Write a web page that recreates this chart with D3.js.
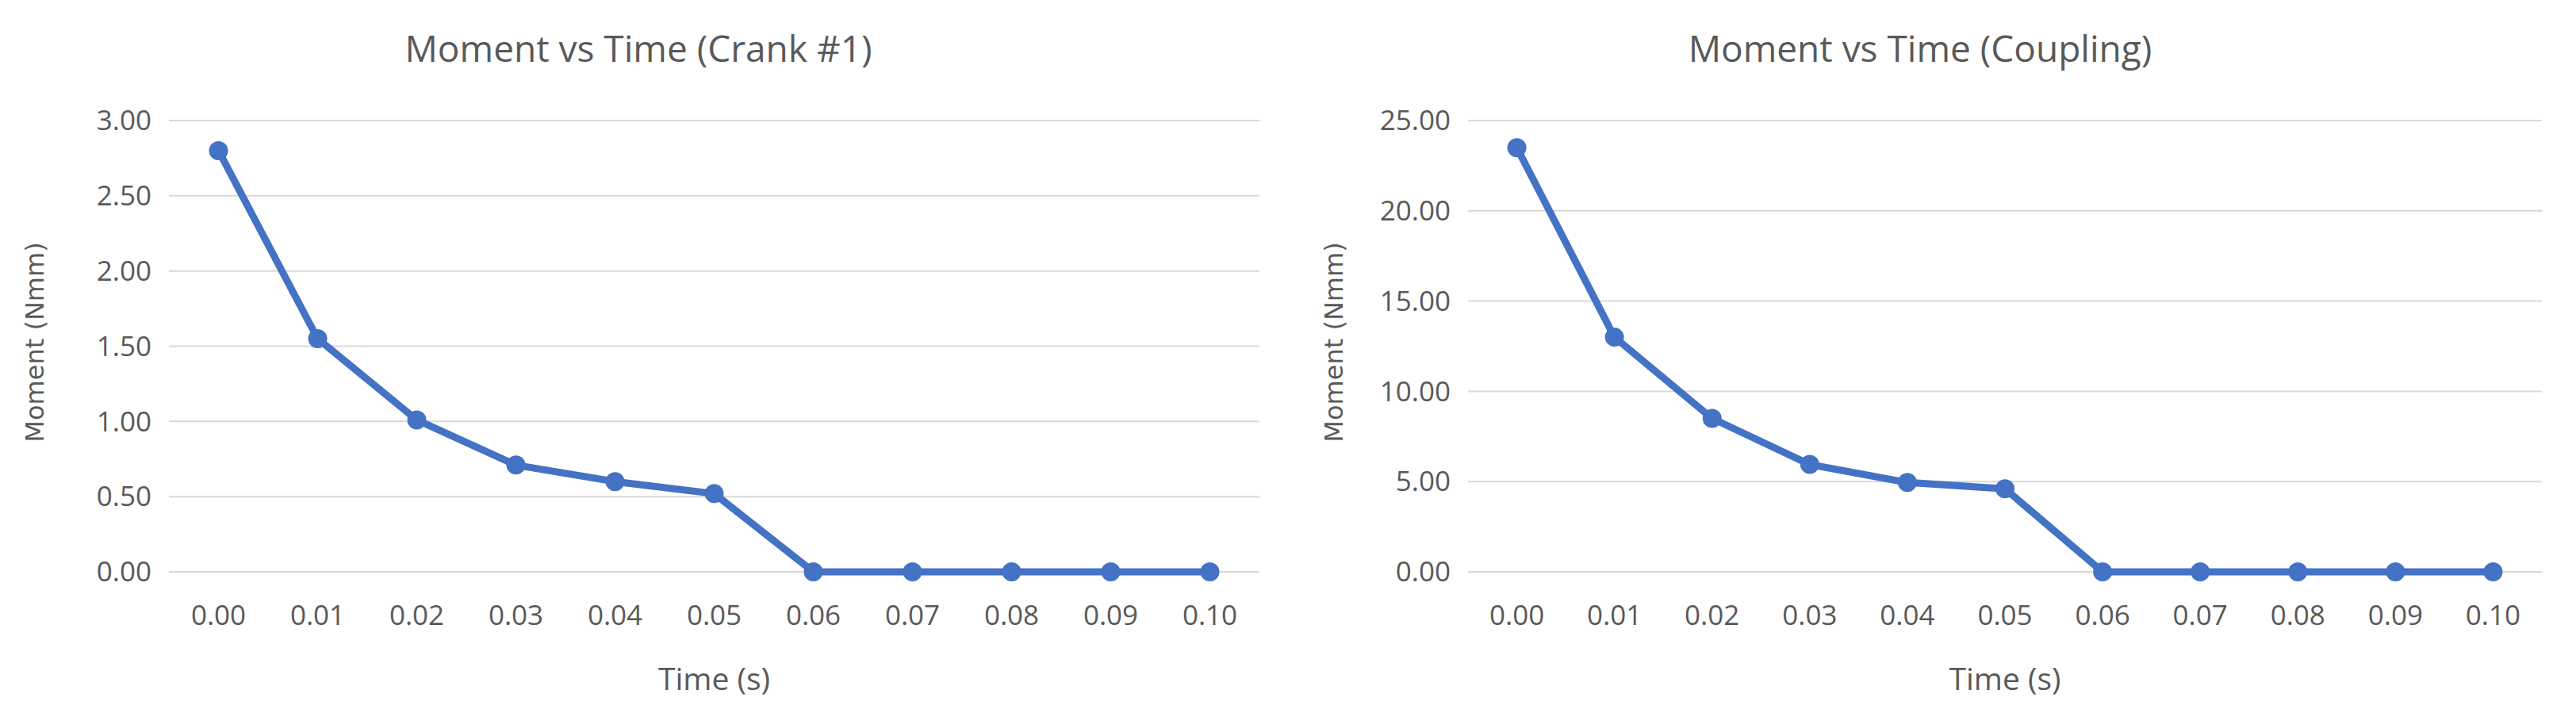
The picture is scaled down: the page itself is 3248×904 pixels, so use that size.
<!DOCTYPE html>
<head>
<meta charset="utf-8">
<style>
body { margin:0; background:#fff; }
text { fill:#595959; }
</style>
</head>
<body>
<div id="chart"></div>
<script src="https://d3js.org/d3.v7.min.js"></script>
<script>

var times = ["0.00","0.01","0.02","0.03","0.04","0.05","0.06","0.07","0.08","0.09","0.10"];
var crankMoment = [2.80, 1.55, 1.01, 0.71, 0.60, 0.52, 0, 0, 0, 0, 0];
var couplingMoment = [23.5, 13.0, 8.5, 5.95, 4.95, 4.6, 0, 0, 0, 0, 0];
var crankTicks = [0, 0.5, 1, 1.5, 2, 2.5, 3];
var couplingTicks = [0, 5, 10, 15, 20, 25];

var W = 3248, H = 904;
var font = "'Open Sans', sans-serif";

var svg = d3.select('#chart').append('svg')
    .attr('width', W).attr('height', H);

function drawChart(title, values, ticks, x0, x1, titleX) {
  var top = 152, bottom = 721;
  var xScale = d3.scaleBand().domain(times).range([x0, x1]);
  var yScale = d3.scaleLinear().domain([0, d3.max(ticks)]).range([bottom, top]);
  var g = svg.append('g');

  g.selectAll('.grid')
    .data(ticks)
    .enter().append('line')
      .attr('x1', x0).attr('x2', x1)
      .attr('y1', function(d) { return yScale(d); })
      .attr('y2', function(d) { return yScale(d); })
      .attr('stroke', '#d9d9d9').attr('stroke-width', 2);

  g.selectAll('.ytick')
    .data(ticks)
    .enter().append('text')
      .attr('x', x0 - 22)
      .attr('y', function(d) { return yScale(d); })
      .attr('dy', '0.35em')
      .attr('text-anchor', 'end')
      .attr('font-family', font).attr('font-size', '35px')
      .text(function(d) { return d.toFixed(2); });

  g.selectAll('.xtick')
    .data(times)
    .enter().append('text')
      .attr('x', function(d) { return xScale(d) + xScale.bandwidth() / 2; })
      .attr('y', bottom + 67)
      .attr('text-anchor', 'middle')
      .attr('font-family', font).attr('font-size', '35px')
      .text(function(d) { return d; });

  var line = d3.line()
    .x(function(d, i) { return xScale(times[i]) + xScale.bandwidth() / 2; })
    .y(function(d) { return yScale(d); });

  g.append('path')
    .datum(values)
    .attr('d', line)
    .attr('fill', 'none')
    .attr('stroke', '#4472C4')
    .attr('stroke-width', 9)
    .attr('stroke-linejoin', 'round');

  g.selectAll('.dot')
    .data(values)
    .enter().append('circle')
      .attr('cx', function(d, i) { return xScale(times[i]) + xScale.bandwidth() / 2; })
      .attr('cy', function(d) { return yScale(d); })
      .attr('r', 12)
      .attr('fill', '#4472C4');

  g.append('text')
    .attr('x', titleX).attr('y', 78)
    .attr('text-anchor', 'middle')
    .attr('font-family', font).attr('font-size', '46px')
    .text(title);

  g.append('text')
    .attr('x', (x0 + x1) / 2).attr('y', 870)
    .attr('text-anchor', 'middle')
    .attr('font-family', font).attr('font-size', '39px')
    .text('Time (s)');

  g.append('text')
    .attr('transform', 'translate(' + (x0 - 158) + ',' + ((top + bottom) / 2 - 5) + ') rotate(-90)')
    .attr('text-anchor', 'middle')
    .attr('font-family', "'DejaVu Sans', sans-serif").attr('font-size', '32px')
    .text('Moment (Nmm)');
}

drawChart('Moment vs Time (Crank #1)', crankMoment, crankTicks, 213, 1588, 805);
drawChart('Moment vs Time (Coupling)', couplingMoment, couplingTicks, 1851, 3205, 2421);

</script>
</body>
